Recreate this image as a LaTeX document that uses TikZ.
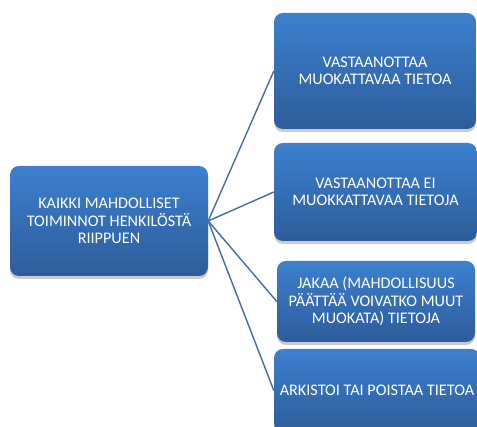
\documentclass[tikz,border=0pt]{standalone}
\usepackage{fontspec}
\setmainfont{Carlito}
\usetikzlibrary{shadows}
\definecolor{boxtop}{RGB}{60,128,206}
\definecolor{boxbottom}{RGB}{45,92,155}
\definecolor{linkblue}{RGB}{70,106,160}
\tikzset{
  x=1pt, y=1pt,
  topic/.style={rectangle, rounded corners=9pt, inner sep=2pt,
    top color=boxtop, bottom color=boxbottom, draw=none,
    text=white, align=center, font=\fontsize{16.2}{17.5}\selectfont,
    drop shadow={shadow xshift=0pt, shadow yshift=-3pt, opacity=0.35, fill=black!60}},
  link/.style={draw=linkblue, line width=1.4pt}
}
\begin{document}
\begin{tikzpicture}
\useasboundingbox (0,0) rectangle (477,427);
\clip (0,0) rectangle (477,427);
\node[topic, minimum width=198pt, minimum height=110pt] (root) at (109,206)
  {KAIKKI MAHDOLLISET\\TOIMINNOT HENKILÖSTÄ\\RIIPPUEN};
\node[topic, minimum width=202pt, minimum height=116pt] (a) at (375,356)
  {VASTAANOTTAA\\MUOKATTAVAA TIETOA};
\node[topic, minimum width=203pt, minimum height=98pt] (b) at (375.5,235)
  {VASTAANOTTAA EI\\MUOKKATTAVAA TIETOJA};
\node[topic, minimum width=198pt, minimum height=81pt] (c) at (376,125.5)
  {JAKAA (MAHDOLLISUUS\\PÄÄTTÄÄ VOIVATKO MUUT\\MUOKATA) TIETOJA};
\node[topic, minimum width=206pt, minimum height=83pt] (d) at (377,36.5)
  {ARKISTOI TAI POISTAA TIETOA};
\foreach \t in {a,b,c,d}
  \draw[link] (root.east) -- (\t.west);
\end{tikzpicture}
\end{document}
